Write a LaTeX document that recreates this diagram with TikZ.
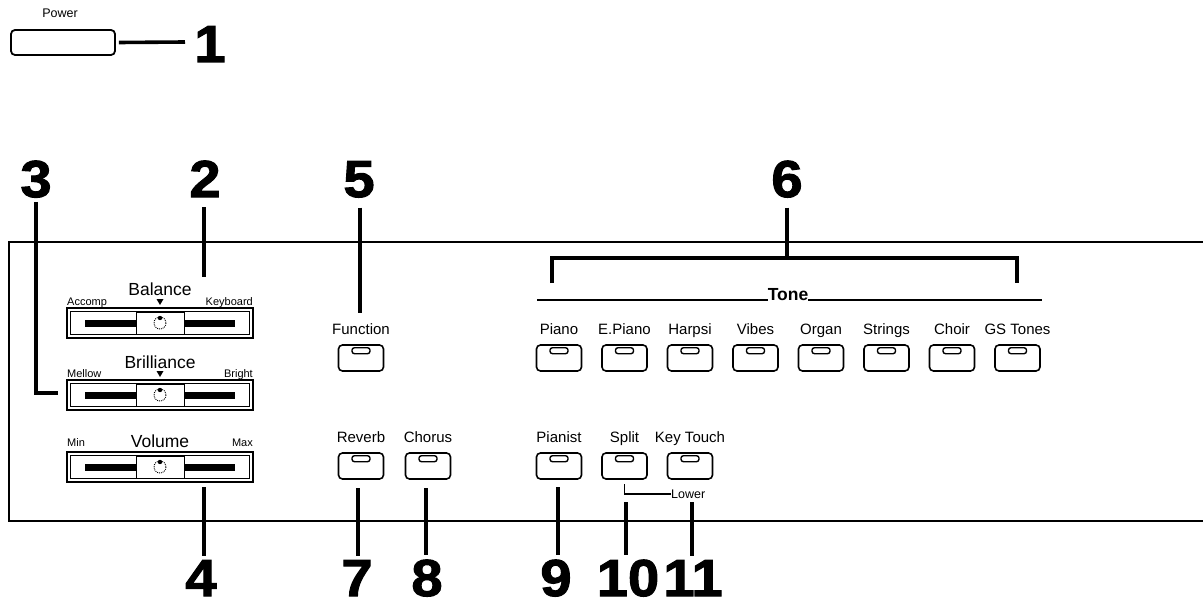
\documentclass[tikz,border=0pt]{standalone}
\usepackage{fontspec}
\setmainfont{Liberation Sans}
\newfontfamily\numfont[FakeBold=2,FakeStretch=1.08]{Liberation Sans}
\usetikzlibrary{positioning}

\tikzset{
  num/.style={font=\numfont\bfseries\fontsize{52pt}{52pt}\selectfont, inner sep=0pt, anchor=base},
  lead/.style={line width=3.6pt},
  lbl/.style={font=\fontsize{15pt}{17pt}\selectfont, inner sep=0pt, anchor=base},
  title/.style={font=\fontsize{17.5pt}{19pt}\selectfont, inner sep=0pt, anchor=base},
  tiny/.style={font=\fontsize{11pt}{12pt}\selectfont, inner sep=0pt},
  btn/.style={draw, rounded corners=4pt, minimum width=45pt, minimum height=26pt, line width=1.6pt, inner sep=0pt},
  led/.style={draw, rounded corners=2.5pt, minimum width=18pt, minimum height=6pt, line width=1.4pt, inner sep=0pt},
  fader/.style={draw, minimum width=186pt, minimum height=30pt, line width=1.6pt, inner sep=0pt}
}

\begin{document}
\begin{tikzpicture}[x=1pt, y=-1pt, line cap=butt]
  \useasboundingbox (0,0) rectangle (1203,607);

  % power switch
  \node[tiny, font=\fontsize{12.5pt}{14pt}\selectfont, anchor=base] (powlbl) at (60,18) {Power};
  \node[draw, rounded corners=4pt, minimum width=104pt, minimum height=25pt, line width=1.8pt] (power) at (63,42.5) {};
  \node[num] (n1) at (210,62) {1};
  \coordinate (c1) at (185,42);
  \draw[lead] ([xshift=3pt]power.east) -- (c1);

  % panel
  \draw[line width=2.4pt] (1203,242) -- (9,242) -- (9,521) -- (1203,521);

  % sliders
  \node[fader] (bal) at (160,323) {};
  \node[fader] (bri) at (160,395) {};
  \node[fader] (vol) at (160,467) {};
  \foreach \s in {bal,bri,vol} {
    \draw[line width=1pt] ([shift={(4pt,-4pt)}]\s.north west) rectangle ([shift={(-4pt,4pt)}]\s.south east);
    \fill ([shift={(-75pt,-3.5pt)}]\s.center) rectangle ([shift={(75pt,3.5pt)}]\s.center);
    \draw[line width=1pt, fill=white] ([shift={(-24pt,-11pt)}]\s.center) rectangle ([shift={(24pt,11pt)}]\s.center);
    \draw[densely dotted, line width=0.9pt] (\s.center) circle (6);
    \fill ([yshift=5pt]\s.center) circle (2.2);
  }
  \node[title] (baltxt) at (160,295) {Balance};
  \node[tiny, anchor=base west] (accomp) at (67,305) {Accomp};
  \node[tiny, anchor=base east] (keyb) at (253,305) {Keyboard};
  \fill (156.5,299) -- (163.5,299) -- (160,305) -- cycle;
  \node[title] (britxt) at (160,368) {Brilliance};
  \node[tiny, anchor=base west] (mellow) at (67,377) {Mellow};
  \node[tiny, anchor=base east] (bright) at (253,377) {Bright};
  \fill (156.5,371) -- (163.5,371) -- (160,377) -- cycle;
  \node[title] (voltxt) at (160,447) {Volume};
  \node[tiny, anchor=base west] (min) at (67,446) {Min};
  \node[tiny, anchor=base east] (max) at (253,446) {Max};

  % function, reverb, chorus
  \node[btn] (func) at (361,358) {};
  \node[lbl] at ([yshift=10pt]func.north) {Function};
  \node[btn] (rev) at (361,466) {};
  \node[lbl] at ([yshift=10pt]rev.north) {Reverb};
  \node[btn] (cho) at (428,466) {};
  \node[lbl] at ([yshift=10pt]cho.north) {Chorus};

  % tone buttons
  \foreach \nm [count=\i from 0] in {Piano,E.Piano,Harpsi,Vibes,Organ,Strings,Choir,GS Tones} {
    \node[btn] (t\i) at ({559+65.5*\i},358) {};
    \node[lbl] (l\i) at ([yshift=10pt]t\i.north) {\nm};
  }
  \node[title, font=\bfseries\fontsize{17.5pt}{19pt}\selectfont] (tone) at (788,300) {Tone};
  \coordinate (toneL) at (537,300);
  \coordinate (toneR) at (1042,300);
  \draw[line width=1.6pt] (toneL) -- (tone.base west);
  \draw[line width=1.6pt] (tone.base east) -- (toneR);

  % pianist, split, key touch
  \node[btn] (pian) at (559,466) {};
  \node[lbl] at ([yshift=10pt]pian.north) {Pianist};
  \node[btn] (split) at (624.5,466) {};
  \node[lbl] at ([yshift=10pt]split.north) {Split};
  \node[btn] (key) at (690,466) {};
  \node[lbl] at ([yshift=10pt]key.north) {Key Touch};
  \node[tiny, font=\fontsize{12.5pt}{14pt}\selectfont, anchor=west] (lower) at (671,494) {Lower};
  \draw[line width=1.2pt] (lower.west) -| ([yshift=-4pt]split.south);

  \foreach \b in {func,rev,cho,pian,split,key,t0,t1,t2,t3,t4,t5,t6,t7}
    \node[led] at ([yshift=-6.5pt]\b.north) {};

  % callout numbers
  \node[num] (n2) at (205,197) {2};
  \node[num] (n3) at (36,197) {3};
  \node[num] (n5) at (359,197) {5};
  \node[num] (n6) at (787,197) {6};
  \node[num] (n4) at (201,596) {4};
  \node[num] (n7) at (357,596) {7};
  \node[num] (n8) at (427,596) {8};
  \node[num] (n9) at (556,596) {9};
  \node[num] (n10) at (628,596) {10};
  \node[num] (n11) at (693,596) {11};

  \coordinate (c2) at (204,277);
  \coordinate (c3) at (58,393);
  \coordinate (c5) at (360,313);
  \coordinate (c6) at (787,258);
  \coordinate (c4) at (204,487);
  \coordinate (c7) at (358,488);
  \coordinate (c8) at (426,488);
  \coordinate (c9) at (558,487);
  \coordinate (c10) at (626,502);
  \coordinate (c11) at (692,502);

  \draw[lead] ([yshift=-10pt]n2.south -| c2) -- (c2);
  \draw[lead] ([yshift=-4pt]n3.south) |- (c3);
  \draw[lead] ([yshift=-10pt]n5.south -| c5) -- (c5);
  \draw[lead] ([yshift=-10pt]n6.south) -- (c6);
  \draw[lead] (552,283) -- (552,258) -- (1017,258) -- (1017,283);
  \foreach \k in {4,7,8,9,10,11}
    \draw[lead] (c\k) -- ([yshift=4pt]n\k.north -| c\k);
\end{tikzpicture}
\end{document}
